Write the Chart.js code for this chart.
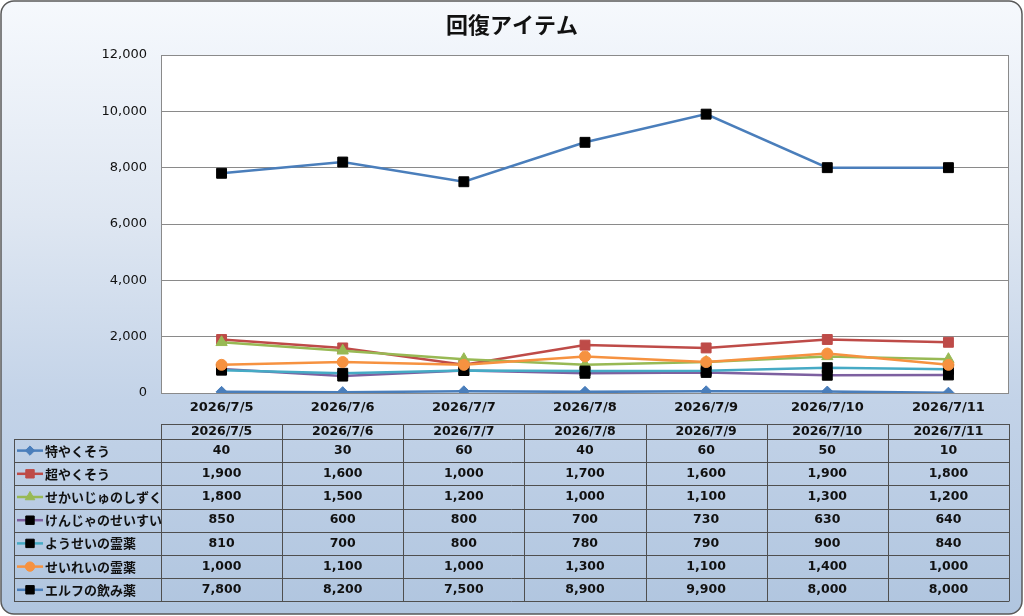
<!DOCTYPE html>
<html><head><meta charset="utf-8">
<script src="https://cdn.jsdelivr.net/npm/chart.js@4/dist/chart.umd.min.js"></script>
<style>html,body{margin:0;padding:0;background:#fff;}#c{display:block;}</style>
</head><body>
<canvas id="c" width="1024" height="616"></canvas>
<script>
const chartTitle = '回復アイテム';
const categories = ['2026/7/5','2026/7/6','2026/7/7','2026/7/8','2026/7/9','2026/7/10','2026/7/11'];
const seriesNames = ['特やくそう','超やくそう','せかいじゅのしずく','けんじゃのせいすい','ようせいの霊薬','せいれいの霊薬','エルフの飲み薬'];
const tokuYakusou   = [40, 30, 60, 40, 60, 50, 10];
const chouYakusou   = [1900, 1600, 1000, 1700, 1600, 1900, 1800];
const sekaijuShizuku= [1800, 1500, 1200, 1000, 1100, 1300, 1200];
const kenjaSeisui   = [850, 600, 800, 700, 730, 630, 640];
const youseiReiyaku = [810, 700, 800, 780, 790, 900, 840];
const seireiReiyaku = [1000, 1100, 1000, 1300, 1100, 1400, 1000];
const elfNomigusuri = [7800, 8200, 7500, 8900, 9900, 8000, 8000];
const yTicks = [0, 2000, 4000, 6000, 8000, 10000, 12000];

const seriesValues = [tokuYakusou, chouYakusou, sekaijuShizuku, kenjaSeisui, youseiReiyaku, seireiReiyaku, elfNomigusuri];
const lineColors = ['#4A7EBB','#BE4B48','#98B954','#7D60A0','#46AAC5','#F69240','#4A7EBB'];
const markerColors = ['#4A7EBB','#BE4B48','#98B954','#000000','#000000','#F69240','#000000'];
const markerStyles = ['rectRot','rect','triangle','rect','rect','circle','rect'];
const markerRadius = [5.5, 7, 6.5, 7, 7, 5.5, 7];

const JP = '"Noto Sans CJK JP", "Noto Sans", sans-serif';
const NUM = '"DejaVu Sans", "Noto Sans CJK JP", sans-serif';
const fmt = v => v.toLocaleString('en-US');

const datasets = seriesNames.map((name, i) => ({
  label: name,
  data: seriesValues[i],
  borderColor: lineColors[i],
  backgroundColor: markerColors[i],
  pointBackgroundColor: markerColors[i],
  pointBorderColor: markerColors[i],
  pointBorderWidth: 1,
  pointStyle: markerStyles[i],
  pointRadius: markerRadius[i],
  borderWidth: 2.5,
  tension: 0,
  order: seriesNames.length - i
}));

const decor = {
  id: 'decor',
  beforeDraw(chart) {
    const ctx = chart.ctx, ca = chart.chartArea;
    ctx.save();
    const g = ctx.createLinearGradient(0, 0, 0, 616);
    g.addColorStop(0, '#f6f9fd');
    g.addColorStop(0.35, '#dfe7f2');
    g.addColorStop(0.65, '#c3d3e8');
    g.addColorStop(1, '#b0c5df');
    ctx.beginPath();
    ctx.roundRect(1, 1, 1021, 613, 13);
    ctx.fillStyle = g;
    ctx.fill();
    ctx.lineWidth = 1.5;
    ctx.strokeStyle = '#5a5a5a';
    ctx.stroke();
    ctx.fillStyle = '#ffffff';
    ctx.fillRect(ca.left, ca.top, ca.right - ca.left, ca.bottom - ca.top);
    ctx.fillStyle = '#111';
    ctx.font = 'bold 22px ' + JP;
    ctx.textAlign = 'center';
    ctx.textBaseline = 'middle';
    ctx.fillText(chartTitle, 512, 25);
    ctx.restore();
  },
  afterDraw(chart) {
    const ctx = chart.ctx, ca = chart.chartArea;
    const n = categories.length;
    const colW = (ca.right - ca.left) / n;
    const headTop = 424, rowTop = 439, rowH = 23.2;
    const legLeft = 14;
    ctx.save();
    ctx.strokeStyle = '#8a8a8a';
    ctx.lineWidth = 1;
    ctx.strokeRect(ca.left + 0.5, ca.top + 0.5, ca.right - ca.left - 1, ca.bottom - ca.top);
    ctx.strokeStyle = '#4f4f4f';
    ctx.lineWidth = 1;
    ctx.beginPath();
    ctx.moveTo(ca.left, headTop + 0.5); ctx.lineTo(ca.right, headTop + 0.5);
    const tableBottom = rowTop + rowH * seriesNames.length;
    for (let r = 0; r <= seriesNames.length; r++) {
      const y = Math.round(rowTop + r * rowH) + 0.5;
      ctx.moveTo(legLeft, y); ctx.lineTo(ca.right, y);
    }
    ctx.moveTo(legLeft + 0.5, rowTop); ctx.lineTo(legLeft + 0.5, tableBottom);
    for (let c = 0; c <= n; c++) {
      const x = Math.round(ca.left + c * colW) + 0.5;
      ctx.moveTo(x, headTop); ctx.lineTo(x, tableBottom);
    }
    ctx.stroke();
    ctx.fillStyle = '#111';
    ctx.font = 'bold 12.5px ' + NUM;
    ctx.textAlign = 'center';
    ctx.textBaseline = 'middle';
    categories.forEach((c, j) => ctx.fillText(c, ca.left + colW * (j + 0.5), headTop + 7.5));
    seriesNames.forEach((name, i) => {
      const yc = rowTop + rowH * (i + 0.5);
      ctx.strokeStyle = lineColors[i];
      ctx.lineWidth = 2.5;
      ctx.beginPath();
      ctx.moveTo(17, yc); ctx.lineTo(43, yc);
      ctx.stroke();
      ctx.fillStyle = markerColors[i];
      ctx.strokeStyle = markerColors[i];
      ctx.lineWidth = 1;
      Chart.helpers.drawPoint(ctx, {pointStyle: markerStyles[i], radius: markerRadius[i] * 0.85, rotation: 0, borderWidth: 1}, 30, yc);
      ctx.fillStyle = '#111';
      ctx.textAlign = 'left';
      ctx.font = 'bold 13px ' + JP;
      ctx.fillText(name, 45, yc);
      ctx.textAlign = 'center';
      ctx.font = 'bold 12.5px ' + NUM;
      seriesValues[i].forEach((v, j) => ctx.fillText(fmt(v), ca.left + colW * (j + 0.5), yc));
    });
    ctx.restore();
  }
};

new Chart(document.getElementById('c'), {
  type: 'line',
  data: { labels: categories, datasets },
  options: {
    responsive: false,
    animation: false,
    devicePixelRatio: 1,
    layout: { padding: { top: 55, left: 0, right: 15, bottom: 193 } },
    plugins: { legend: { display: false }, title: { display: false }, tooltip: { enabled: false } },
    scales: {
      x: {
        offset: true,
        grid: { display: false, drawTicks: false },
        border: { display: false },
        ticks: { color: '#111', font: { family: NUM, size: 13, weight: 'bold' }, padding: 7, maxRotation: 0, autoSkip: false },
        afterFit(s) { s.height = 30; }
      },
      y: {
        min: yTicks[0], max: yTicks[yTicks.length - 1],
        afterBuildTicks(s) { s.ticks = yTicks.map(v => ({ value: v })); },
        grid: { color: '#8a8a8a', lineWidth: 1, drawTicks: false },
        border: { display: false },
        ticks: { color: '#111', font: { family: NUM, size: 13 }, padding: 14, callback: v => fmt(v) },
        afterFit(s) { s.width = 161; }
      }
    }
  },
  plugins: [decor]
});
</script>
</body></html>
